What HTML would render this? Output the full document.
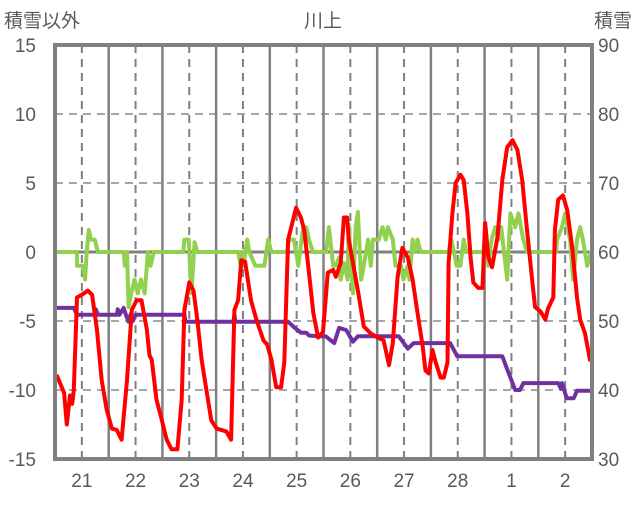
<!DOCTYPE html>
<html><head><meta charset="utf-8"><style>
html,body{margin:0;padding:0;background:#fff;}
svg text{font-family:"Liberation Sans","Noto Sans CJK JP",sans-serif;fill:#595959;}
</style></head><body>
<svg id="chart" width="636" height="501" viewBox="0 0 636 501" xmlns="http://www.w3.org/2000/svg">
<g id="grid"></g>
<g id="series"></g>
<rect x="55" y="45" width="537" height="414" fill="none" stroke="#808080" stroke-width="4"/>
<g id="labels"></g>
<text x="323" y="27" font-size="19" text-anchor="middle">川上</text>
<text x="4" y="27" font-size="19">積雪以外</text>
<text x="632" y="27" font-size="19" text-anchor="end">積雪</text>
</svg>
<script>
const leftTicks=[15,10,5,0,-5,-10,-15];
const rightTicks=[90,80,70,60,50,40,30];
const dayLabels=["21","22","23","24","25","26","27","28","1","2"];
const redT=[0.04,0.17,0.22,0.28,0.32,0.35,0.41,0.50,0.61,0.69,0.78,0.87,0.96,1.06,1.15,1.24,1.34,1.43,1.52,1.61,1.71,1.76,1.80,1.89,1.99,2.08,2.17,2.28,2.36,2.41,2.50,2.58,2.65,2.73,2.82,2.91,3.01,3.19,3.28,3.34,3.41,3.47,3.54,3.65,3.75,3.88,3.95,4.03,4.12,4.21,4.27,4.34,4.49,4.58,4.64,4.71,4.81,4.90,4.99,5.08,5.18,5.23,5.32,5.38,5.44,5.47,5.64,5.75,5.88,6.01,6.12,6.22,6.29,6.38,6.47,6.57,6.66,6.75,6.85,6.90,6.96,7.03,7.09,7.18,7.24,7.31,7.33,7.40,7.46,7.55,7.61,7.68,7.74,7.79,7.88,7.96,8.01,8.07,8.14,8.24,8.33,8.42,8.52,8.61,8.70,8.79,8.89,8.94,9.04,9.13,9.18,9.28,9.31,9.37,9.46,9.54,9.63,9.72,9.78,9.87,9.96];
const redV=[-9,-10.2,-12.5,-10.4,-11,-10,-3.3,-3.1,-2.8,-3.1,-5.6,-9.3,-11.4,-12.8,-12.9,-13.6,-9.3,-4.2,-3.5,-3.5,-5.6,-7.5,-7.8,-10.7,-12.2,-13.6,-14.3,-14.3,-10.7,-4.2,-2.2,-2.8,-4.9,-7.8,-10,-12.2,-12.8,-13,-13.6,-4.2,-3.5,-0.6,-0.7,-3.5,-4.9,-6.4,-6.7,-7.8,-9.8,-9.8,-8,0.9,3.2,2.5,1.6,-0.8,-4.4,-6.2,-5.8,-1.5,-1.3,-1.8,-0.8,2.5,2.5,0.9,-2.8,-5.4,-5.9,-6.2,-6.4,-8.2,-6.6,-1.8,0.3,-0.4,-2,-4.4,-6.9,-8.6,-8.8,-7.1,-8,-9.1,-9.1,-8,-0.8,2.8,5,5.6,5.2,2.8,-0.4,-2.2,-2.6,-2.6,2.1,-0.4,-1.1,1.1,5.2,7.6,8.1,7.4,5.2,1.6,-2.2,-4,-4.3,-4.9,-4.1,-3.3,1.6,3.8,4.1,3,0.4,-3.3,-4.9,-5.9,-7.8];
const greenT=[0,0.41,0.41,0.52,0.56,0.59,0.63,0.67,0.74,0.80,1.28,1.30,1.34,1.37,1.43,1.48,1.54,1.60,1.67,1.73,1.78,1.84,2.39,2.41,2.49,2.54,2.60,2.65,3.41,3.46,3.49,3.51,3.58,3.62,3.73,3.90,3.97,4.03,4.32,4.36,4.45,4.53,4.62,4.68,4.73,4.80,5.05,5.10,5.18,5.23,5.29,5.32,5.38,5.45,5.47,5.55,5.60,5.64,5.70,5.75,5.83,5.88,5.92,6.03,6.10,6.16,6.20,6.29,6.34,6.44,6.49,6.57,6.60,6.66,6.71,6.75,6.81,7.33,7.38,7.48,7.55,7.61,7.66,7.98,8.02,8.07,8.13,8.20,8.26,8.31,8.42,8.48,8.57,8.63,8.72,8.79,9.33,9.35,9.44,9.50,9.59,9.65,9.72,9.78,9.83,9.91,9.98];
const greenV=[0,0,-1,-1,-2,0,1.6,0.9,0.9,0,0,-1,0,-4,-2.8,-2,-3,-2,-3,0,-1,0,0,0.9,0.9,-3,0.7,0,0,-1,0,-1,0.9,0,-1,-1,0.9,0,0,0.9,0.9,-1,1.8,1.8,0.9,0,0,1.8,-1,-1,-0.4,-2,-0.8,-2,2,-3,1.8,2.9,-2,-1,0.9,-1,0.9,0.9,1.8,0.9,1.8,0.9,-1,-1,-2,-1,-2,0.9,0,0.9,0,0,0.9,-1,-1,0.9,0,0,1.8,-1,0.9,1.8,0.9,1.8,-2,2.8,1.8,2.8,0.9,0,0,0.9,1.8,2.8,0.9,-2,0.9,1.8,0.9,-1,0];
const purpleT=[0,0.35,0.41,0.74,0.76,0.80,1.15,1.17,1.20,1.28,1.32,1.37,1.41,1.45,1.50,2.41,2.43,3.32,3.34,3.36,4.34,4.45,4.58,4.68,4.73,4.90,5.04,5.20,5.29,5.42,5.55,5.64,6.40,6.57,6.68,7.36,7.49,8.33,8.42,8.57,8.66,8.72,9.37,9.42,9.44,9.53,9.66,9.72,10];
const purpleV=[51.9,51.9,50.9,50.9,51.7,50.9,50.9,51.7,50.9,51.9,50.9,49.9,51,50,50.9,50.9,49.9,49.9,50.9,49.9,49.9,49.1,48.3,48.3,47.9,47.8,47.8,46.8,49.0,48.7,47.0,47.8,47.8,46.0,46.8,46.8,44.9,44.9,43.0,40.0,40.0,41.0,41.0,40.2,41,38.8,38.8,39.9,39.9];

const X0=55,X1=592,Y0=45,Y1=459;
const xs=t=>X0+(t/10)*(X1-X0);
const yl=v=>Y0+(15-v)/30*(Y1-Y0);
const yr=v=>Y0+(90-v)/60*(Y1-Y0);
const NS="http://www.w3.org/2000/svg";
function mk(tag,attrs,parent){const e=document.createElementNS(NS,tag);for(const k in attrs)e.setAttribute(k,attrs[k]);parent.appendChild(e);return e;}
const grid=document.getElementById('grid'),ser=document.getElementById('series'),lab=document.getElementById('labels');
leftTicks.forEach((v,i)=>{
  const y=yl(v);
  if(v!==15&&v!==-15){const l=mk('line',{x1:X0,x2:X1,y1:y,y2:y,stroke:v===0?'#808080':'#a6a6a6','stroke-width':v===0?3:2,'stroke-dasharray':v===0?'none':'8,6'},grid);
  
  }
  const t=mk('text',{x:36,y:y+7,'font-size':19,'text-anchor':'end'},lab);t.textContent=v;
  
  
  const r=mk('text',{x:598,y:yr(rightTicks[i])+7,'font-size':19},lab);r.textContent=rightTicks[i];
  
  
});
dayLabels.forEach((d,i)=>{
  const xd=xs(i+0.5);
  const l=mk('line',{x1:xd,x2:xd,y1:Y0,y2:Y1,stroke:'#808080','stroke-width':2,'stroke-dasharray':'8,6'},grid);
  
  
  if(i<9){const xm=xs(i+1);const m=mk('line',{x1:xm,x2:xm,y1:Y0,y2:Y1,stroke:'#808080','stroke-width':2.5},grid);
  
  }
  const t=mk('text',{x:xd,y:487,'font-size':19,'text-anchor':'middle'},lab);t.textContent=d;
  
  
});
function line(T,V,yf,color,name){
  const pts=T.map((t,i)=>xs(t).toFixed(1)+','+yf(V[i]).toFixed(1)).join(' ');
  const p=mk('polyline',{points:pts,fill:'none',stroke:color,'stroke-width':4,'stroke-linejoin':'round','stroke-linecap':'round'},ser);
  
  
}
line(greenT,greenV,yl,'#92d050','green-series');
line(purpleT,purpleV,yr,'#7030a0','snow-depth-series');
line(redT,redV,yl,'#ff0000','red-series');
</script>
</body></html>
